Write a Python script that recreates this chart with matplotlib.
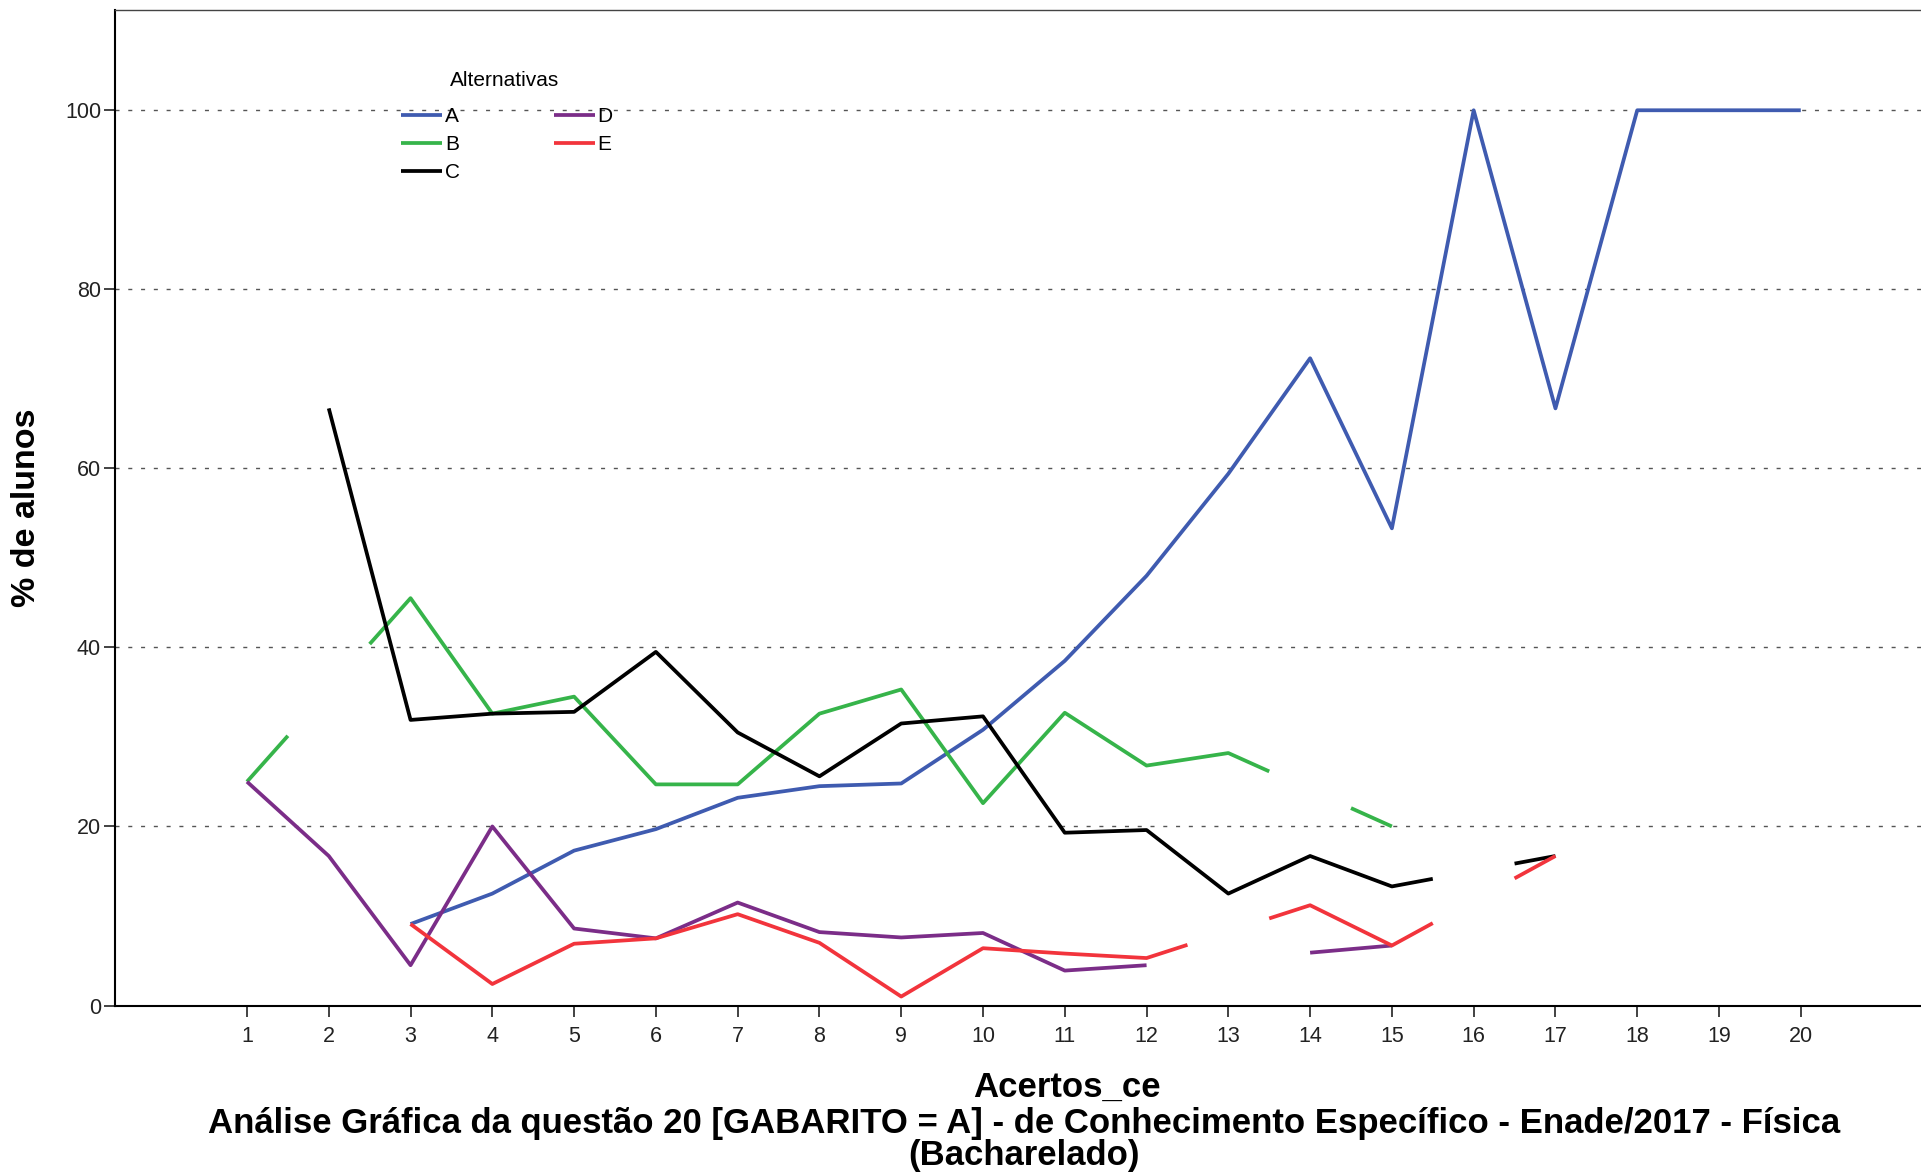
import numpy as np
import matplotlib.pyplot as plt

plt.rcParams['font.family'] = ['Liberation Sans', 'DejaVu Sans']

nan = np.nan
acertos = list(range(1, 21))

# % de alunos por alternativa em cada nível de acertos (nan = sem dado)
pct_a = [nan, nan, 9.1, 12.5, 17.3, 19.7, 23.2, 24.5, 24.8, 30.8,
         38.5, 48.0, 59.4, 72.3, 53.3, 100, 66.7, 100, 100, 100]
pct_b = [25.0, nan, 45.5, 32.6, 34.5, 24.7, 24.7, 32.6, 35.3, 22.6,
         32.7, 26.8, 28.2, nan, 20.0, nan, nan, nan, nan, nan]
pct_c = [nan, 66.7, 31.9, 32.6, 32.8, 39.5, 30.5, 25.6, 31.5, 32.3,
         19.3, 19.6, 12.5, 16.7, 13.3, nan, 16.7, nan, nan, nan]
pct_d = [25.0, 16.7, 4.5, 20.0, 8.6, 7.5, 11.5, 8.2, 7.6, 8.1,
         3.9, 4.5, nan, 5.9, 6.7, nan, nan, nan, nan, nan]
pct_e = [nan, nan, 9.1, 2.4, 6.9, 7.5, 10.2, 7.0, 1.0, 6.4,
         5.8, 5.3, nan, 11.2, 6.7, nan, 16.7, nan, nan, nan]

# pontos ausentes onde a linha chega até meio caminho (interpolada)
gaps_a = []
gaps_b = [2, 14]
gaps_c = [16]
gaps_d = []
gaps_e = [13, 16]

labels = ['A', 'B', 'C', 'D', 'E']
colors = ['#3f5bb0', '#36b44a', '#000000', '#7b2d88', '#f2343c']
series = [pct_a, pct_b, pct_c, pct_d, pct_e]
gaps = [gaps_a, gaps_b, gaps_c, gaps_d, gaps_e]


def half_steps(vals, gap_pts):
    v = np.array(vals, dtype=float)
    for g in gap_pts:
        i = g - 1
        v[i] = (v[i - 1] + v[i + 1]) / 2
    xs = np.arange(acertos[0], acertos[-1] + 0.5, 0.5)
    ys = np.empty(len(xs))
    ys[::2] = v
    ys[1::2] = (v[:-1] + v[1:]) / 2
    for g in gap_pts:
        ys[2 * (g - 1)] = nan
    return xs, ys


fig = plt.figure(figsize=(19.21, 11.74), dpi=100)
ax = fig.add_axes([115 / 1921, 1 - 1005.5 / 1174, 1 - 115 / 1921, 995.5 / 1174])

for lab, col, vals, gp in zip(labels, colors, series, gaps):
    xs, ys = half_steps(vals, gp)
    ax.plot(xs, ys, color=col, lw=2.7, label=lab, solid_capstyle='butt')

ax.set_xlim(-0.614, 21.47)
ax.set_ylim(0, 111.2)
ax.set_xticks(acertos)
ax.set_yticks([0, 20, 40, 60, 80, 100])
ax.tick_params(axis='both', direction='out', length=8, width=1.2,
               labelsize=15.5, colors='#222222')
ax.tick_params(axis='x', pad=7)
ax.tick_params(axis='y', pad=2)

for yv in [20, 40, 60, 80, 100]:
    ax.axhline(yv, color='#555555', lw=1.0, ls=(0, (2.9, 6.3)), zorder=0)

ax.spines['right'].set_visible(False)
ax.spines['left'].set_linewidth(1.5)
ax.spines['bottom'].set_linewidth(1.5)
ax.spines['top'].set_color('#444444')
ax.spines['top'].set_linewidth(1.0)

fig.text(27 / 1921, 1 - 508 / 1174, '% de alunos', rotation=90, ha='center',
         va='center', fontsize=24.5, fontweight='bold')
fig.text(1067 / 1921, 1 - 1087 / 1174, 'Acertos_ce', ha='center', va='center',
         fontsize=25, fontweight='bold')
fig.text(1024 / 1921, 1 - 1123 / 1174,
         'Análise Gráfica da questão 20 [GABARITO = A] - de Conhecimento '
         'Específico - Enade/2017 - Física',
         ha='center', va='center', fontsize=25, fontweight='bold')
fig.text(1024 / 1921, 1 - 1156 / 1174, '(Bacharelado)', ha='center',
         va='center', fontsize=25, fontweight='bold')

fig.text(505 / 1921, 1 - 80.5 / 1174, 'Alternativas', ha='center', va='center',
         fontsize=15)
leg = ax.legend(ncol=2, frameon=False, fontsize=15, loc='upper left',
                bbox_to_anchor=(391 / 1921, 1 - 97 / 1174),
                bbox_transform=fig.transFigure, borderpad=0,
                handlelength=1.95, handletextpad=0.15, columnspacing=4.5,
                labelspacing=0.42)

fig.savefig('out.png', dpi=100)
